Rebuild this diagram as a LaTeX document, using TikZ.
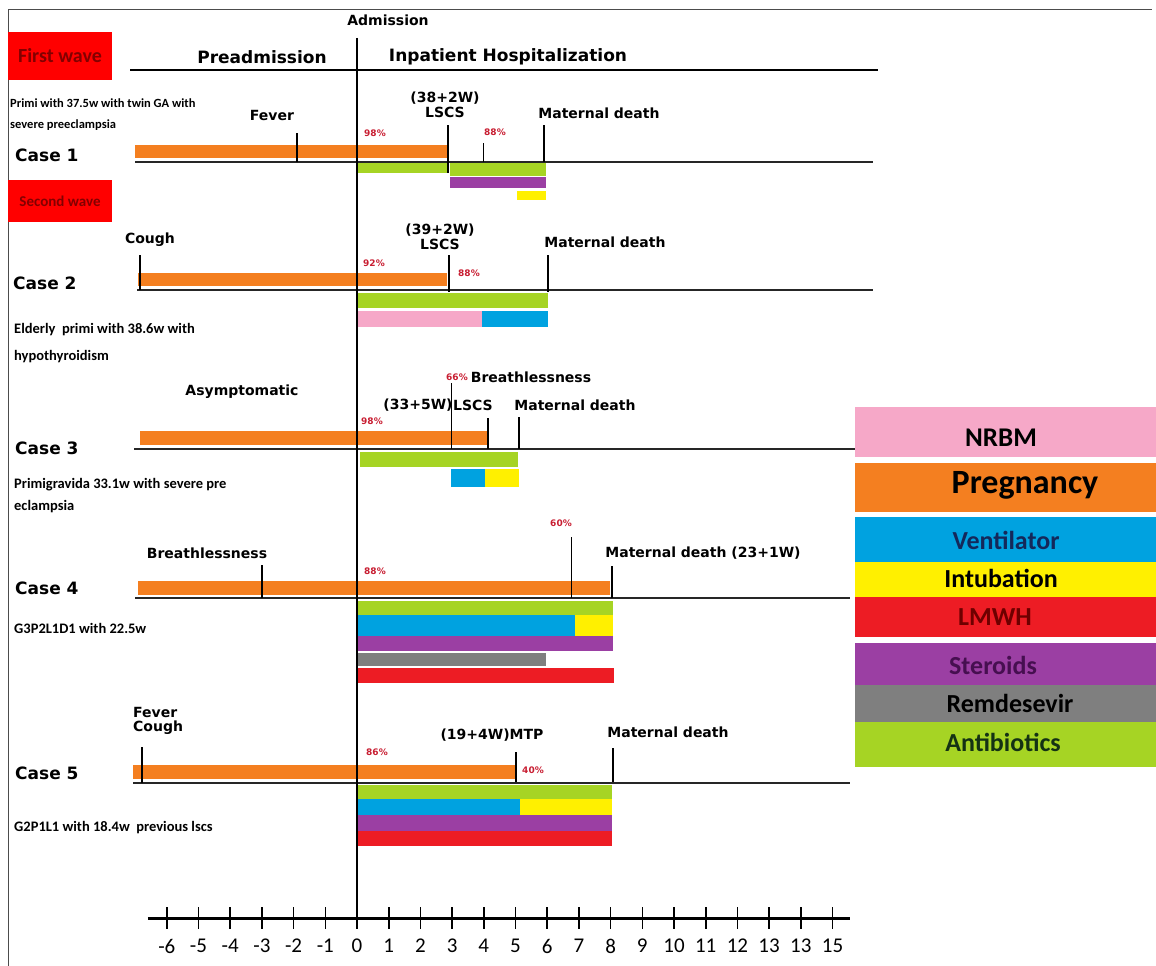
\documentclass[tikz,border=0pt]{standalone}
\usepackage{fontspec}
\setmainfont{Carlito}
\newfontfamily\verd{DejaVu Sans}
\usepackage{xcolor}
\usepackage{tikz}
\usetikzlibrary{positioning}
\definecolor{cpreg}{RGB}{244,127,32}
\definecolor{cantib}{RGB}{166,212,36}
\definecolor{cvent}{RGB}{0,162,224}
\definecolor{cintub}{RGB}{255,240,0}
\definecolor{clmwh}{RGB}{237,28,36}
\definecolor{cster}{RGB}{155,63,163}
\definecolor{cremd}{RGB}{127,127,127}
\definecolor{cnrbm}{RGB}{246,168,200}
\definecolor{cwave}{RGB}{255,0,0}
\definecolor{cwavetext}{RGB}{130,0,0}
\definecolor{cpct}{RGB}{200,30,50}

\begin{document}
\begin{tikzpicture}[
    x=1pt, y=-1pt,
    casehead/.style={font=\verd\bfseries\fontsize{17}{20}\selectfont, anchor=west, inner sep=0pt},
    phase/.style={font=\verd\bfseries\fontsize{17}{20}\selectfont, inner sep=0pt},
    evlabel/.style={font=\verd\bfseries\fontsize{14}{15}\selectfont, inner sep=0pt, align=center},
    pct/.style={font=\verd\bfseries\fontsize{9}{10}\selectfont, text=cpct, inner sep=0pt},
    desc/.style={font=\bfseries\fontsize{14.5}{27}\selectfont, anchor=west, align=left, inner sep=0pt},
    wavebox/.style={fill=cwave, text=cwavetext, minimum width=104pt, inner sep=0pt, font=\bfseries},
    caseline/.style={line width=2.2pt, black!85},
    evtick/.style={line width=1.8pt},
    thintick/.style={line width=0.9pt},
    legtext/.style={font=\bfseries\fontsize{26}{28}\selectfont, inner sep=0pt},
    axlab/.style={font=\fontsize{21}{22}\selectfont, inner sep=0pt}
]
    \useasboundingbox (0,0) rectangle (1156,966);
    % frame
    \draw[line width=0.8pt, black!70] (8,966) -- (8,9) -- (1152,9);

    % Waves
    \node[wavebox, minimum height=48pt] (firstwave) at (60,56) {\fontsize{20}{22}\selectfont First wave};
    \node[wavebox, minimum height=42pt] (secondwave) at (60,201) {\fontsize{15}{17}\selectfont Second wave};

    % Phases
    \node[evlabel] (admission) at (388,20) {Admission};
    \node[phase] (preadm) at (262,57) {Preadmission};
    \node[phase] (inpat) at (508,57) {Inpatient Hospitalization};
    \draw[line width=1.6pt] (130,70) -- (878,70);

    % Case titles and descriptions
    \node[casehead] (case1) at (15,155) {Case 1};
    \node[casehead] (case2) at (13,283) {Case 2};
    \node[casehead] (case3) at (15,448) {Case 3};
    \node[casehead] (case4) at (15,588) {Case 4};
    \node[casehead] (case5) at (15,773) {Case 5};
    \node[desc, font=\bfseries\fontsize{12.5}{21}\selectfont] (desc1) at (10,115) {Primi with 37.5w with twin GA with\\severe preeclampsia};
    \node[desc] (desc2) at (14,343) {Elderly\ \ primi with 38.6w with\\hypothyroidism};
    \node[desc, font=\bfseries\fontsize{14.5}{22}\selectfont] (desc3) at (14,496) {Primigravida 33.1w with severe pre\\eclampsia};
    \node[desc] (desc4) at (14,628) {G3P2L1D1 with 22.5w};
    \node[desc] (desc5) at (14,828) {G2P1L1 with 18.4w\ \ previous lscs};

    % Timeline (x in days from admission)
    \begin{scope}[shift={(357,0)}, x=31.7pt]
        % Case 1
        \fill[cpreg] (-7,145) rectangle (2.84,158);
        \fill[cantib] (0,163) rectangle (2.84,173);
        \fill[cantib] (2.93,163) rectangle (5.96,176);
        \fill[cster] (2.93,177) rectangle (5.96,188);
        \fill[cintub] (5.05,191) rectangle (5.96,200);
        \draw[caseline] (-7,162) -- (16.28,162);
        \draw[evtick] (-1.89,133) -- (-1.89,162);
        \draw[evtick] (2.87,125) -- (2.87,173);
        \draw[thintick] (4,143) -- (4,162);
        \draw[evtick] (5.9,125) -- (5.9,162);

        % Case 2
        \fill[cpreg] (-6.91,273) rectangle (2.84,286);
        \fill[cantib] (0,293) rectangle (6.03,308);
        \fill[cnrbm] (0,311) rectangle (3.94,327);
        \fill[cvent] (3.94,311) rectangle (6.03,327);
        \draw[caseline] (-6.94,290) -- (16.28,290);
        \draw[evtick] (-6.85,255) -- (-6.85,290);
        \draw[evtick] (2.9,255) -- (2.9,292);
        \draw[evtick] (6.03,255) -- (6.03,292);

        % Case 3
        \fill[cpreg] (-6.85,431) rectangle (4.1,445);
        \fill[cantib] (0.09,452) rectangle (5.08,467);
        \fill[cvent] (2.97,469) rectangle (4.04,487);
        \fill[cintub] (4.04,469) rectangle (5.11,487);
        \draw[caseline] (-7.03,449) -- (15.71,449);
        \draw[thintick] (2.97,383) -- (2.97,449);
        \draw[evtick] (4.13,418) -- (4.13,449);
        \draw[evtick] (5.11,417) -- (5.11,449);

        % Case 4
        \fill[cpreg] (-6.91,581) rectangle (7.98,595);
        \fill[cantib] (0.03,601) rectangle (8.08,615);
        \fill[cvent] (0.03,615) rectangle (6.88,636);
        \fill[cintub] (6.88,615) rectangle (8.08,636);
        \fill[cster] (0.03,636) rectangle (8.08,651);
        \fill[cremd] (0.03,653) rectangle (5.96,666);
        \fill[clmwh] (0.03,668) rectangle (8.11,683);
        \draw[caseline] (-7,598) -- (15.55,598);
        \draw[evtick] (-3,565) -- (-3,598);
        \draw[thintick] (6.75,537) -- (6.75,598);
        \draw[evtick] (8.04,566) -- (8.04,598);

        % Case 5
        \fill[cpreg] (-7.06,765) rectangle (5.02,779);
        \fill[cantib] (0.03,785) rectangle (8.04,799);
        \fill[cvent] (0.03,799) rectangle (5.14,815);
        \fill[cintub] (5.14,799) rectangle (8.04,815);
        \fill[cster] (0.03,815) rectangle (8.04,831);
        \fill[clmwh] (0.03,831) rectangle (8.04,846);
        \draw[caseline] (-7.06,783) -- (15.55,783);
        \draw[evtick] (-6.78,747) -- (-6.78,783);
        \draw[evtick] (5.02,752) -- (5.02,782);
        \draw[evtick] (8.08,748) -- (8.08,782);

        % Admission line
        \draw[line width=1.6pt] (0,38) -- (0,918);

        % Day axis
        \draw[line width=3pt] (-6.6,918) -- (15.55,918);
        \foreach \t in {-6,...,15}
            \draw[line width=1.6pt] (\t,907) -- (\t,929);
        \foreach \t in {-6,...,13}
            \node[axlab] (ax\t) at (\t,946) {\t};
        \node[axlab] (ax14) at (14,946) {13};
        \node[axlab] (ax15) at (15,946) {15};
    \end{scope}

    % Event labels
    \node[evlabel] (c1fever) at (272,115) {Fever};
    \node[evlabel, font=\verd\bfseries\fontsize{14}{15}\selectfont] (c1lscs) at (445,105) {(38+2W)\\LSCS};
    \node[evlabel] (c1death) at (599,113) {Maternal death};
    \node[pct] (c1pa) at (375,133) {98\%};
    \node[pct] (c1pb) at (495,132) {88\%};

    \node[evlabel] (c2cough) at (150,240) {Cough};
    \node[evlabel] (c2lscs) at (440,237) {(39+2W)\\LSCS};
    \node[evlabel] (c2death) at (605,242) {Maternal death};
    \node[pct] (c2pa) at (374,263) {92\%};
    \node[pct] (c2pb) at (469,273) {88\%};

    \node[evlabel] (c3asym) at (242,392) {Asymptomatic};
    \node[pct] (c3pb) at (457,377) {66\%};
    \node[evlabel] (c3breath) at (531,377) {Breathlessness};
    \node[evlabel] (c3ga) at (418,405) {(33+5W)};
    \node[evlabel] (c3lscs) at (473,405) {LSCS};
    \node[evlabel] (c3death) at (575,405) {Maternal death};
    \node[pct] (c3pa) at (372,421) {98\%};

    \node[evlabel] (c4breath) at (207,553) {Breathlessness};
    \node[pct] (c4pa) at (375,571) {88\%};
    \node[pct] (c4pb) at (561,523) {60\%};
    \node[evlabel] (c4death) at (703,553) {Maternal death (23+1W)};

    \node[evlabel, anchor=west, align=left] (c5sympt) at (133,721) {Fever\\[-1pt]Cough};
    \node[evlabel] (c5mtp) at (492,735) {(19+4W)MTP};
    \node[evlabel] (c5death) at (668,732) {Maternal death};
    \node[pct] (c5pa) at (377,752) {86\%};
    \node[pct] (c5pb) at (533,770) {40\%};

    % Legend
    \fill[cnrbm] (855,407) rectangle (1156,457);
    \fill[cpreg] (855,463) rectangle (1156,512);
    \fill[cvent] (855,517) rectangle (1156,562);
    \fill[cintub] (855,562) rectangle (1156,597);
    \fill[clmwh] (855,597) rectangle (1156,637);
    \fill[cster] (855,643) rectangle (1156,685);
    \fill[cremd] (855,685) rectangle (1156,722);
    \fill[cantib] (855,722) rectangle (1156,767);
    \node[legtext, font=\bfseries\fontsize{27}{28}\selectfont] (lgnrbm) at (1001,438) {NRBM};
    \node[legtext, font=\bfseries\fontsize{34}{36}\selectfont] (lgpreg) at (1025,485) {Pregnancy};
    \node[legtext, text={rgb,255:red,20;green,40;blue,90}] (lgvent) at (1006,540) {Ventilator};
    \node[legtext] (lgintub) at (1001,578) {Intubation};
    \node[legtext, text={rgb,255:red,110;green,0;blue,0}] (lglmwh) at (995,617) {LMWH};
    \node[legtext, text={rgb,255:red,70;green,15;blue,80}] (lgster) at (993,665) {Steroids};
    \node[legtext] (lgremd) at (1010,703) {Remdesevir};
    \node[legtext, text={rgb,255:red,20;green,50;blue,20}] (lgantib) at (1003,742) {Antibiotics};
\end{tikzpicture}
\end{document}
